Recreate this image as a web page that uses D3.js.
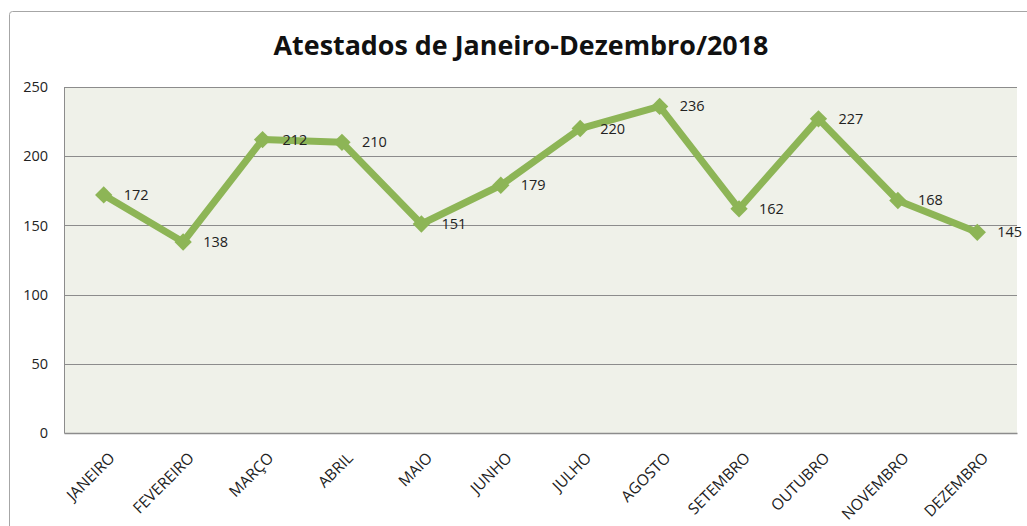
<!DOCTYPE html>
<html>
<head>
<meta charset="utf-8">
<script src="https://cdn.jsdelivr.net/npm/d3@7"></script>
<style>
  body { margin: 0; background: #fff; }
  svg { display: block; font-family: "Open Sans", sans-serif; }
</style>
</head>
<body>
<div class="chart"></div>
<script>
var meses = ['JANEIRO', 'FEVEREIRO', 'MARÇO', 'ABRIL', 'MAIO', 'JUNHO',
  'JULHO', 'AGOSTO', 'SETEMBRO', 'OUTUBRO', 'NOVEMBRO', 'DEZEMBRO'];
var atestados = [172, 138, 212, 210, 151, 179, 220, 236, 162, 227, 168, 145];
var yTicks = [0, 50, 100, 150, 200, 250];
var titulo = 'Atestados de Janeiro-Dezembro/2018';

var W = 1027, H = 526;
var margin = { top: 87, right: 10, bottom: 93, left: 64 };
var width = W - margin.left - margin.right;
var height = H - margin.top - margin.bottom;

var svg = d3.select('.chart')
  .append('svg')
  .attr('width', W)
  .attr('height', H);

// moldura do gráfico
svg.append('rect')
  .attr('x', 9.5).attr('y', 11.5)
  .attr('width', 1040).attr('height', 540)
  .attr('rx', 3)
  .attr('fill', '#fff')
  .attr('stroke', '#a6a6a6');

var title = svg.append('text')
  .attr('x', 521)
  .attr('y', 55)
  .attr('text-anchor', 'middle')
  .attr('font-weight', 'bold')
  .attr('font-size', 26)
  .attr('fill', '#111')
  .text(titulo);
// ajusta o tamanho para a largura do original (~495px)
var tw = title.node().getComputedTextLength();
title.attr('font-size', 26 * 495 / tw);

var g = svg.append('g')
  .attr('transform', 'translate(' + margin.left + ',' + margin.top + ')');

var x = d3.scaleBand()
  .domain(meses)
  .range([0, width]);

var y = d3.scaleLinear()
  .domain([0, 250])
  .range([height, 0]);

g.append('rect')
  .attr('width', width)
  .attr('height', height)
  .attr('fill', '#eff1e9');

g.selectAll('.grid')
  .data(yTicks.filter(d => d > 0))
  .enter()
  .append('line')
  .attr('x1', 0).attr('x2', width)
  .attr('y1', d => Math.round(y(d)) + 0.5)
  .attr('y2', d => Math.round(y(d)) + 0.5)
  .attr('stroke', '#8c8c8c');

var yAxis = g.append('g')
  .call(d3.axisLeft(y).tickValues(yTicks).tickSize(0).tickPadding(16));
yAxis.select('.domain').attr('stroke', '#8c8c8c');
yAxis.selectAll('text')
  .attr('font-family', '"Open Sans", sans-serif')
  .attr('font-size', 14.5)
  .attr('fill', '#222');

var xAxis = g.append('g')
  .attr('transform', 'translate(0,' + height + ')')
  .call(d3.axisBottom(x).tickSize(0).tickPadding(0));
xAxis.select('.domain').attr('stroke', '#8c8c8c').attr('stroke-width', 1.5);
xAxis.selectAll('text')
  .attr('font-family', '"Open Sans", sans-serif')
  .attr('font-size', 15.5)
  .attr('fill', '#222')
  .attr('text-anchor', 'end')
  .attr('dy', null)
  .attr('y', 0)
  .attr('transform', 'translate(12,26) rotate(-45)');

var line = d3.line()
  .x(d => x(d.mes) + x.bandwidth() / 2)
  .y(d => y(d.valor));

var dados = meses.map((m, i) => ({ mes: m, valor: atestados[i] }));

g.append('path')
  .datum(dados)
  .attr('d', line)
  .attr('fill', 'none')
  .attr('stroke', '#8db556')
  .attr('stroke-width', 7)
  .attr('stroke-linejoin', 'round');

g.selectAll('.ponto')
  .data(dados)
  .enter()
  .append('path')
  .attr('d', d3.symbol().type(d3.symbolSquare).size(150))
  .attr('transform', d => 'translate(' + (x(d.mes) + x.bandwidth() / 2) + ',' + y(d.valor) + ') rotate(45)')
  .attr('fill', '#8db556');

g.selectAll('.rotulo')
  .data(dados)
  .enter()
  .append('text')
  .attr('x', d => x(d.mes) + x.bandwidth() / 2 + 20)
  .attr('y', d => y(d.valor) + 5)
  .attr('font-size', 14.5)
  .attr('fill', '#222')
  .text(d => d.valor);
</script>
</body>
</html>
